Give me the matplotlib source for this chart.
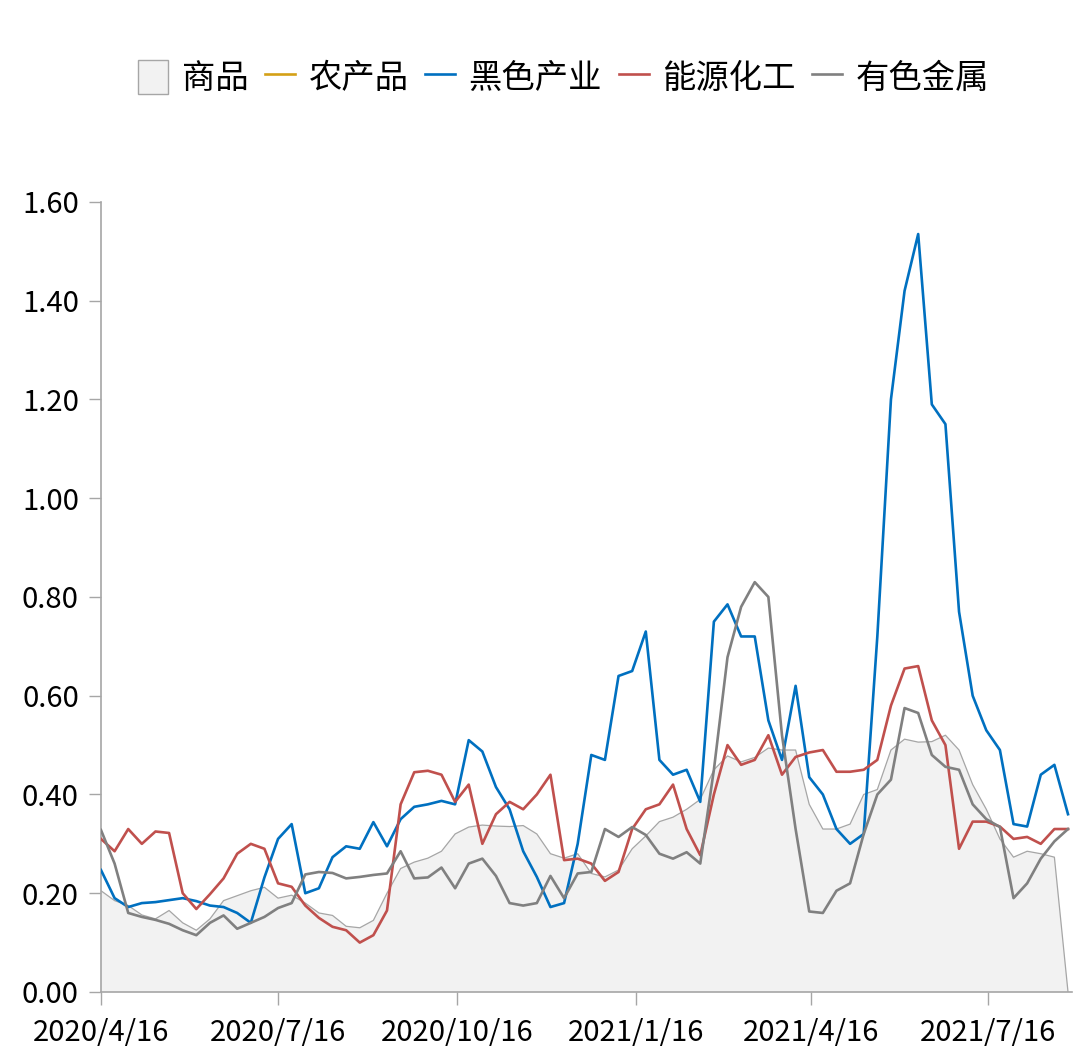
import matplotlib
matplotlib.use("Agg")
import matplotlib.pyplot as plt
import pandas as pd
from matplotlib.patches import Patch
from matplotlib.lines import Line2D

plt.rcParams['font.family'] = ['Noto Sans CJK SC', 'DejaVu Sans']

# weekly dates (Thursdays)
dates = pd.date_range('2020-04-16', '2021-08-26', freq='7D')

commodity = [0.205, 0.185, 0.175, 0.156, 0.148, 0.165, 0.14, 0.125, 0.148, 0.185,
             0.195, 0.205, 0.212, 0.19, 0.196, 0.18, 0.16, 0.155, 0.133, 0.13,
             0.145, 0.20, 0.25, 0.263, 0.271, 0.285, 0.32, 0.334, 0.338, 0.336,
             0.335, 0.337, 0.32, 0.28, 0.271, 0.28, 0.24, 0.233, 0.247, 0.29,
             0.316, 0.345, 0.354, 0.37, 0.39, 0.45, 0.478, 0.466, 0.475, 0.494,
             0.49, 0.49, 0.38, 0.33, 0.33, 0.34, 0.40, 0.41, 0.49, 0.512,
             0.506, 0.507, 0.52, 0.49, 0.42, 0.37, 0.31, 0.273, 0.285, 0.28,
             0.273, 0.0]

agri = []

ferrous = [0.247, 0.19, 0.172, 0.18, 0.182, 0.186, 0.19, 0.184, 0.175, 0.172,
           0.16, 0.14, 0.232, 0.31, 0.34, 0.20, 0.21, 0.273, 0.295, 0.29,
           0.344, 0.295, 0.35, 0.375, 0.38, 0.387, 0.38, 0.51, 0.487, 0.415,
           0.37, 0.285, 0.233, 0.172, 0.18, 0.30, 0.48, 0.47, 0.64, 0.65,
           0.73, 0.47, 0.44, 0.45, 0.385, 0.75, 0.785, 0.72, 0.72, 0.55,
           0.47, 0.62, 0.435, 0.40, 0.33, 0.30, 0.32, 0.72, 1.20, 1.42,
           1.535, 1.19, 1.15, 0.77, 0.60, 0.53, 0.49, 0.34, 0.335, 0.44,
           0.46, 0.36]

energy = [0.31, 0.285, 0.33, 0.30, 0.325, 0.322, 0.20, 0.168, 0.198, 0.23,
          0.28, 0.30, 0.29, 0.22, 0.213, 0.175, 0.15, 0.132, 0.125, 0.10,
          0.115, 0.165, 0.38, 0.445, 0.448, 0.44, 0.385, 0.42, 0.30, 0.36,
          0.385, 0.37, 0.40, 0.44, 0.267, 0.27, 0.26, 0.225, 0.243, 0.33,
          0.37, 0.38, 0.42, 0.33, 0.277, 0.40, 0.50, 0.46, 0.47, 0.52,
          0.44, 0.476, 0.485, 0.49, 0.446, 0.446, 0.45, 0.47, 0.58, 0.655,
          0.66, 0.55, 0.50, 0.29, 0.345, 0.345, 0.335, 0.31, 0.314, 0.30,
          0.33, 0.33]

metals = [0.328, 0.26, 0.16, 0.152, 0.146, 0.138, 0.125, 0.115, 0.14, 0.155,
          0.128, 0.14, 0.152, 0.17, 0.18, 0.238, 0.243, 0.241, 0.23, 0.233,
          0.237, 0.24, 0.285, 0.23, 0.232, 0.252, 0.21, 0.26, 0.27, 0.235,
          0.18, 0.175, 0.18, 0.235, 0.19, 0.24, 0.243, 0.33, 0.314, 0.334,
          0.318, 0.28, 0.27, 0.283, 0.26, 0.45, 0.678, 0.78, 0.83, 0.80,
          0.52, 0.33, 0.163, 0.16, 0.205, 0.22, 0.32, 0.40, 0.43, 0.575,
          0.565, 0.48, 0.456, 0.45, 0.38, 0.35, 0.334, 0.19, 0.22, 0.27,
          0.305, 0.33]

tick_dates = ['2020-04-16', '2020-07-16', '2020-10-16', '2021-01-16', '2021-04-16', '2021-07-16']
tick_labels = ['2020/4/16', '2020/7/16', '2020/10/16', '2021/1/16', '2021/4/16', '2021/7/16']
yticks = [0.0, 0.2, 0.4, 0.6, 0.8, 1.0, 1.2, 1.4, 1.6]

c_area = '#F2F2F2'
c_edge = '#A6A6A6'
c_agri = '#D4A017'
c_blue = '#0070C0'
c_red = '#C0504D'
c_gray = '#808080'

fig = plt.figure(figsize=(10.8, 10.64), dpi=100)
ax = fig.add_axes([0.0935, 0.0677, 0.899, 0.7425])

ax.fill_between(dates, commodity, 0, facecolor=c_area, edgecolor='none', zorder=1)
ax.plot(dates, commodity, color=c_edge, lw=0.9, zorder=2)
ax.plot(dates[:len(agri)], agri, color=c_agri, lw=1.9, zorder=3)
ax.plot(dates, ferrous, color=c_blue, lw=1.9, zorder=3)
ax.plot(dates, energy, color=c_red, lw=1.9, zorder=3)
ax.plot(dates, metals, color=c_gray, lw=1.9, zorder=3)

ax.set_xlim(pd.Timestamp('2020-04-16'), pd.Timestamp('2021-08-28'))
ax.set_ylim(0, 1.6)
ax.set_yticks(yticks)
ax.set_yticklabels(['%.2f' % v for v in yticks])
ax.set_xticks(pd.to_datetime(tick_dates))
ax.set_xticklabels(tick_labels)

for s in ['top', 'right']:
    ax.spines[s].set_visible(False)
for s in ['left', 'bottom']:
    ax.spines[s].set_color(c_edge)
    ax.spines[s].set_linewidth(1.2)
ax.tick_params(axis='both', colors=c_edge, length=9, width=1, labelcolor='black', labelsize=21)
ax.tick_params(axis='x', pad=10)
ax.tick_params(axis='y', pad=7)

handles = [Patch(facecolor=c_area, edgecolor=c_edge, linewidth=1),
           Line2D([], [], color=c_agri, lw=1.9),
           Line2D([], [], color=c_blue, lw=1.9),
           Line2D([], [], color=c_red, lw=1.9),
           Line2D([], [], color=c_gray, lw=1.9)]
labels = ['商品', '农产品', '黑色产业', '能源化工', '有色金属']
fig.legend(handles, labels, loc='center', bbox_to_anchor=(0.522, 0.927), ncol=5,
           frameon=False, prop={'size': 24, 'weight': 'medium'}, handlelength=0.9,
           handleheight=1.2, handletextpad=0.4, columnspacing=0.5)

fig.savefig('out.png', dpi=100)
